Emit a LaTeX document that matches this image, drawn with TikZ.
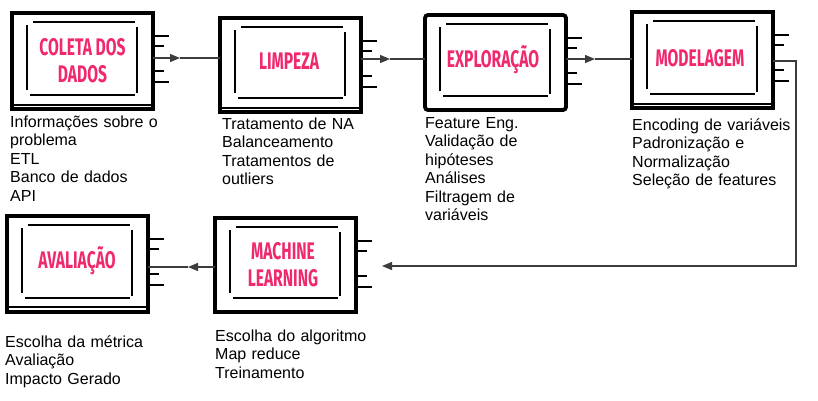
\documentclass[tikz,border=0pt]{standalone}
\usepackage{fontspec}
\setmainfont{Liberation Sans}
\newfontfamily\titlefont{Fira Sans}[FakeStretch=0.65]
\usetikzlibrary{arrows.meta}
\definecolor{pinkt}{RGB}{240,40,110}
\definecolor{connc}{RGB}{60,60,60}
\tikzset{
  outerbox/.style={draw=black, line width=3.8pt, inner sep=0pt, outer sep=0pt},
  innerline/.style={draw=black, line width=1.2pt},
  dblline/.style={draw=black, line width=1.2pt},
  conn/.style={draw=connc, line width=1.3pt},
  tip/.style={-{Triangle[length=10pt,width=8pt]}},
  titletext/.style={text=pinkt, font=\titlefont\bfseries\fontsize{24}{27}\selectfont, align=center, inner sep=0pt},
  bodytext/.style={text=black, font=\fontsize{16}{18.5}\selectfont, text width=200pt, align=left, inner sep=0pt, anchor=base west}
}
% #1 name, #2 left, #3 top, #4 right, #5 bottom, #6 extra options
\newcommand\procbox[6]{%
  \node[outerbox, minimum width={#4-#2}, minimum height={#5-#3}, #6] (#1) at ({(#2+#4)/2},{(#3+#5)/2}) {};
  \draw[innerline] ({#2+21},{#3+9}) -- ({#4-18},{#3+9});
  \draw[innerline] ({#2+15},{#3+12}) -- ({#2+15},{#5-19});
  \draw[innerline] ({#4-16},{#3+14}) -- ({#4-16},{#5-16});
  \draw[innerline] ({#2+18},{#5-14}) -- ({#4-18},{#5-14});
  \draw[innerline] (#1.east |- 0,{#3+23}) -- ++(16,0);
  \draw[innerline] (#1.east |- 0,{#3+33}) -- ++(11,0);
  \draw[innerline] (#1.east |- 0,{#3+58}) -- ++(11,0);
  \draw[innerline] (#1.east |- 0,{#3+69}) -- ++(16,0);
}
\begin{document}
\begin{tikzpicture}[x=1pt,y=-1pt]
\useasboundingbox (0,0) rectangle (818,400);
\fill[white] (0,0) rectangle (818,400);

\procbox{b1}{12}{13}{153}{109}{}
\draw[dblline] (12,105) -- (153,105);
\procbox{b2}{220}{18}{361}{112}{}
\draw[dblline] (220,108) -- (361,108);
\procbox{b3}{425}{15}{566}{110}{rounded corners=3pt}
\procbox{b4}{632}{12}{773}{108}{}
\draw[dblline] (632,104) -- (773,104);
\procbox{b5}{215}{218}{356}{312}{}
\procbox{b6}{7}{216}{148}{312}{}
\draw[dblline] (7,307) -- (148,307);

\node[titletext] (t1) at (82.5,61) {COLETA DOS\\DADOS};
\node[titletext] (t2) at (289,61) {LIMPEZA};
\node[titletext] (t3) at (493,60) {EXPLORAÇÃO};
\node[titletext] (t4) at (700,58) {MODELAGEM};
\node[titletext] (t5) at (283,265) {MACHINE\\LEARNING};
\node[titletext] (t6) at (77,261) {AVALIAÇÃO};

% connectors
\coordinate (a1) at (180,58);
\coordinate (a2) at (390,59);
\coordinate (a3) at (595,59);
\coordinate (c4) at (796,61);
\coordinate (a5) at (382,266);
\coordinate (a6) at (188,267);
\draw[conn,tip] (b1.east |- a1) -- (a1);
\draw[conn] (a1) -- (b2.west |- a1);
\draw[conn,tip] (b2.east |- a2) -- (a2);
\draw[conn] (a2) -- (b3.west |- a2);
\draw[conn,tip] (b3.east |- a3) -- (a3);
\draw[conn] (a3) -- (b4.west |- a3);
\draw[conn,tip] (b4.east |- c4) -- (c4) |- (a5);
\draw[conn,tip] (b5.west |- a6) -- (a6);
\draw[conn] (a6) -- (b6.east |- a6);

% descriptions
\node[bodytext] (d1) at (10,127) {Informações sobre o\\problema\\ETL\\Banco de dados\\API};
\node[bodytext] (d2) at (222,129) {Tratamento de NA\\Balanceamento\\Tratamentos de\\outliers};
\node[bodytext] (d3) at (425,128) {Feature Eng.\\Validação de\\hipóteses\\Análises\\Filtragem de\\variáveis};
\node[bodytext] (d4) at (632,130) {Encoding de variáveis\\Padronização e\\Normalização\\Seleção de features};
\node[bodytext] (d5) at (215,341) {Escolha do algoritmo\\Map reduce\\Treinamento};
\node[bodytext] (d6) at (5,347) {Escolha da métrica\\Avaliação\\Impacto Gerado};
\end{tikzpicture}
\end{document}
